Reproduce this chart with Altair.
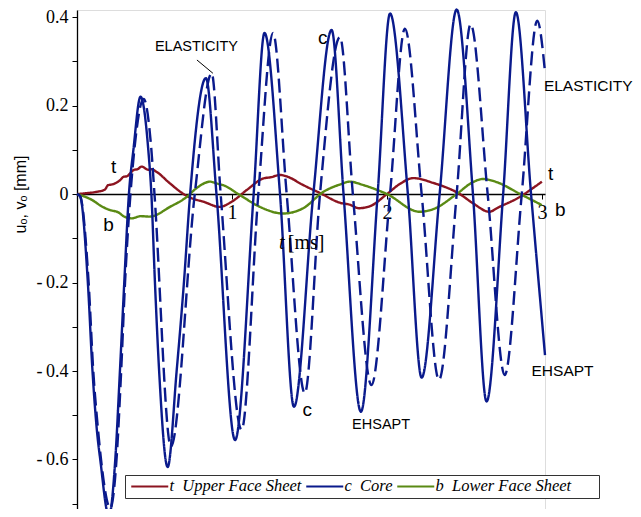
import altair as alt
import pandas as pd

# ---- core (c), EHSAPT solution (solid) ----
core_ehsapt_t = [0, 0.02, 0.07, 0.10, 0.13, 0.15, 0.206, 0.247, 0.277, 0.305, 0.335, 0.364, 0.41, 0.46, 0.48,
                 0.503, 0.53, 0.585, 0.643, 0.69, 0.73, 0.832, 0.90, 1.02, 1.14, 1.21, 1.31, 1.40, 1.525,
                 1.643, 1.72, 1.832, 1.94, 2.02, 2.135, 2.224, 2.34, 2.45, 2.555, 2.643, 2.75, 2.832, 2.93, 3.02]
core_ehsapt_u = [0, -0.005, -0.2, -0.4, -0.54, -0.6, -0.728, -0.6, -0.4, -0.2, 0, 0.1, 0.22, 0.1, 0,
                 -0.2, -0.4, -0.617, -0.4, -0.2, 0, 0.262, 0, -0.556, 0, 0.364, 0, -0.481, 0,
                 0.371, 0, -0.492, 0, 0.408, 0, -0.415, 0, 0.417, 0, -0.469, 0, 0.411, 0, -0.364]

# ---- core (c), elasticity solution (dashed) ----
core_elast_t = [0, 0.02, 0.075, 0.105, 0.135, 0.155, 0.215, 0.255, 0.285, 0.31, 0.345, 0.37, 0.43, 0.48, 0.50,
                0.606, 0.76, 0.869, 0.927, 1.062, 1.17, 1.265, 1.353, 1.47, 1.568, 1.697, 1.78, 1.90,
                2.02, 2.116, 2.224, 2.336, 2.45, 2.54, 2.65, 2.76, 2.87, 2.97, 3.02]
core_elast_u = [0, -0.005, -0.2, -0.4, -0.53, -0.6, -0.71, -0.6, -0.4, -0.2, 0, 0.1, 0.215, 0.1, 0,
                -0.571, 0, 0.273, 0, -0.533, 0, 0.364, 0, -0.45, 0, 0.355, 0, -0.432,
                0, 0.374, 0, -0.42, 0, 0.384, 0, -0.409, 0, 0.392, 0.276]

# ---- upper face sheet (t) ----
upper_t = [0, 0.06, 0.127, 0.18, 0.2, 0.23, 0.28, 0.3, 0.32, 0.37, 0.39, 0.417, 0.46, 0.48, 0.514,
           0.6, 0.697, 0.76, 0.813, 0.92, 1.0, 1.095, 1.2, 1.25, 1.31, 1.38, 1.44, 1.57, 1.7, 1.76,
           1.82, 1.9, 2.0, 2.08, 2.17, 2.3, 2.47, 2.56, 2.66, 2.72, 2.86, 2.94, 3.0]
upper_v = [0, 0.002, 0.005, 0.01, 0.02, 0.022, 0.032, 0.039, 0.04, 0.055, 0.056, 0.062, 0.055, 0.056, 0.05,
           0.024, -0.002, -0.012, -0.017, -0.029, -0.017, 0.009, 0.035, 0.038, 0.043, 0.036, 0.024, 0.002,
           -0.02, -0.024, -0.032, -0.026, 0.0, 0.022, 0.036, 0.025, 0.0, -0.022, -0.04, -0.03, -0.006,
           0.013, 0.028]

# ---- lower face sheet (b) ----
lower_t = [0, 0.1, 0.16, 0.21, 0.27, 0.3, 0.353, 0.41, 0.47, 0.6, 0.71, 0.77, 0.86, 0.9, 0.944, 1.05,
           1.18, 1.33, 1.46, 1.59, 1.7, 1.76, 1.85, 2.0, 2.21, 2.3, 2.45, 2.55, 2.62, 2.7, 2.86, 3.0]
lower_v = [0, -0.014, -0.028, -0.036, -0.042, -0.05, -0.055, -0.05, -0.051, -0.029, -0.006, 0.013, 0.028,
           0.024, 0.02, -0.002, -0.029, -0.044, -0.032, 0.005, 0.022, 0.028, 0.02, 0.0, -0.04, -0.034,
           0.0, 0.026, 0.034, 0.028, 0.0, -0.025]

series_names = ["t\u00a0\u00a0Upper Face Sheet", "c\u00a0\u00a0Core",
                "b\u00a0\u00a0Lower Face Sheet" + "\u2800" * 2]
series_colors = ["#8c1420", "#0a1a8c", "#5a8a14"]

y_ticks = [0.4, 0.3, 0.2, 0.1, 0.0, -0.1, -0.2, -0.3, -0.4, -0.5, -0.6, -0.7]
x_ticks = [1, 2, 3]

rows = []
def add(ts, vs, series, model):
    for i, (a, b) in enumerate(zip(ts, vs)):
        rows.append({"t": a, "u": b, "series": series, "model": model,
                     "curve": series + "|" + model, "i": i})

add(upper_t, upper_v, series_names[0], "EHSAPT")
add(lower_t, lower_v, series_names[2], "EHSAPT")
add(core_elast_t, core_elast_u, series_names[1], "ELASTICITY")
add(core_ehsapt_t, core_ehsapt_u, series_names[1], "EHSAPT")
df = pd.DataFrame(rows)

xscale = alt.Scale(domain=[0, 3.02], nice=False, zero=False)
yscale = alt.Scale(domain=[-0.7119, 0.416], nice=False, zero=False)

label_expr = ("abs(round(datum.value*10)) % 2 == 0 ? (datum.value < -0.001 ? '-\u2009' + format(-datum.value, '.1f') "
              ": (abs(datum.value) < 0.001 ? '0' : format(datum.value, '.1f'))) : ''")

lines = alt.Chart(df).mark_line(interpolate="monotone", strokeWidth=2.4, clip=False).encode(
    x=alt.X("t:Q", scale=xscale,
            axis=alt.Axis(values=x_ticks, title=None, offset=-315, grid=False,
                          domainColor="black", domainWidth=1.3, tickColor="black", tickSize=5,
                          labelFont="Liberation Serif", labelFontSize=20, labelColor="black",
                          labelPadding=3, format="d")),
    y=alt.Y("u:Q", scale=yscale,
            axis=alt.Axis(values=y_ticks, labelExpr=label_expr, grid=False,
                          title="u\u2092, v\u2092 [mm]", titleFont="Liberation Sans", titleFontSize=16,
                          titleFontWeight="normal", titleColor="black", titleAngle=270,
                          titleX=-57, titleY=184, titleAlign="center", titleBaseline="middle",
                          domainColor="black", domainWidth=1.3, tickColor="black", tickSize=5,
                          labelFont="Liberation Serif", labelFontSize=18, labelColor="black",
                          labelPadding=4)),
    color=alt.Color("series:N", scale=alt.Scale(domain=series_names, range=series_colors),
                    legend=alt.Legend(orient="none", legendX=48, legendY=465, direction="horizontal",
                                      title=None, symbolType="M-1,0H6.4", symbolSize=100,
                                      symbolStrokeWidth=2, labelFont="Liberation Serif",
                                      labelFontStyle="italic", labelFontSize=16.5, labelColor="black",
                                      strokeColor="#333333", fillColor="white", padding=3,
                                      columnPadding=0, labelOffset=25, cornerRadius=0,
                                      labelLimit=300)),
    strokeDash=alt.StrokeDash("model:N", scale=alt.Scale(domain=["EHSAPT", "ELASTICITY"],
                                                          range=[[1, 0], [14, 6]]), legend=None),
    detail="curve:N",
    order="i:Q",
)

def label_layer(texts, ts, us, size, font="Liberation Sans", style="normal", align="left"):
    d = pd.DataFrame({"txt": texts, "t": ts, "u": us})
    return alt.Chart(d).mark_text(font=font, fontSize=size, fontStyle=style, align=align,
                                  baseline="middle", color="black").encode(
        x=alt.X("t:Q", scale=xscale), y=alt.Y("u:Q", scale=yscale), text="txt:N")

ann_big = label_layer(["ELASTICITY", "EHSAPT"], [3.013, 2.933], [0.244, -0.399], 15.5)
ann_small = label_layer(["ELASTICITY", "EHSAPT"], [0.503, 1.775], [0.332, -0.522], 14.5)
ann_c = label_layer(["c", "c"], [1.555, 1.455], [0.352, -0.488], 19)
ann_tb = label_layer(["t", "b", "t", "b"], [0.22, 0.17, 3.04, 3.085], [0.062, -0.07, 0.045, -0.036], 19)
ann_t = label_layer(["t"], [1.34], [-0.11], 20, font="Liberation Serif", style="italic", align="right")
ann_ms = label_layer(["[ms]"], [1.36], [-0.11], 20, font="Liberation Serif")

leader = alt.Chart(pd.DataFrame({"t1": [0.774], "t2": [0.877], "u1": [0.303], "u2": [0.273]})).mark_rule(
    color="black", strokeWidth=1).encode(
    x=alt.X("t1:Q", scale=xscale), x2="t2:Q", y=alt.Y("u1:Q", scale=yscale), y2="u2:Q")

chart = alt.layer(lines, leader, ann_big, ann_small, ann_c, ann_tb, ann_t, ann_ms).properties(
    width=468, height=499,
    autosize=alt.AutoSizeParams(type="none"),
    padding={"left": 69, "top": 2, "right": 88, "bottom": 0},
).configure_view(stroke=None).configure(background="white")

chart.save("out.html", embed_options={"renderer": "svg", "actions": False})
